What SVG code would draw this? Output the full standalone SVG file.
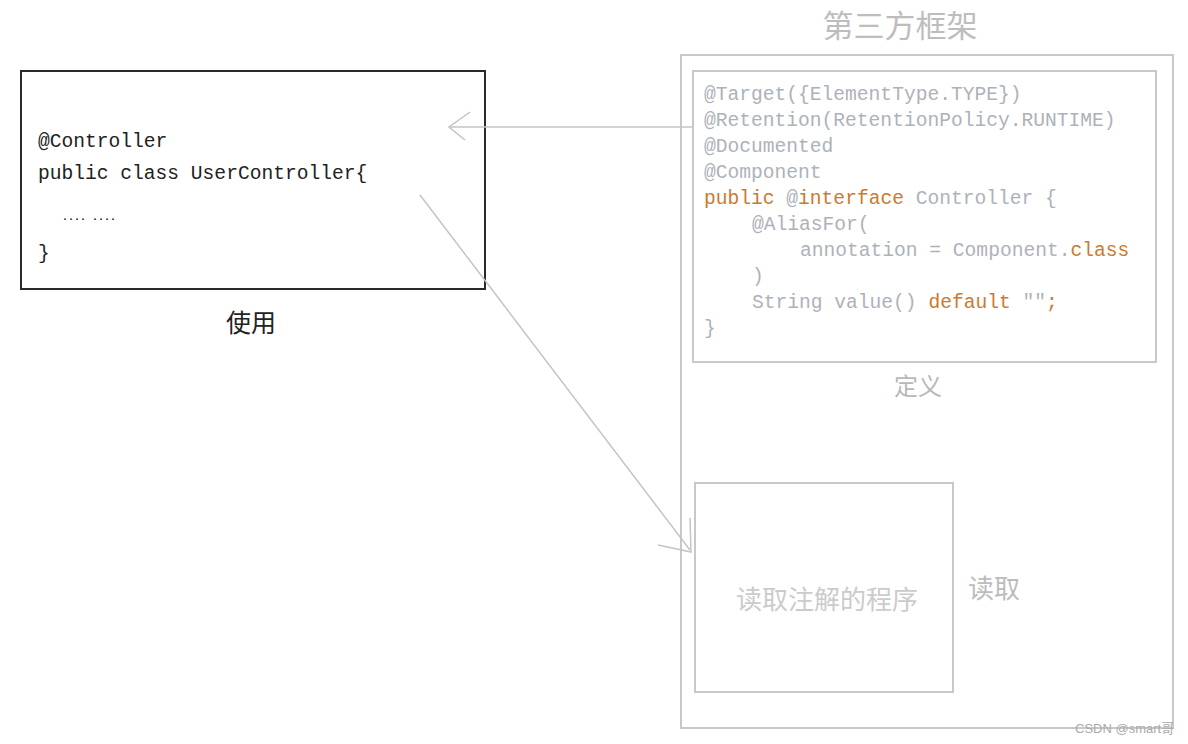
<svg xmlns="http://www.w3.org/2000/svg" width="1188" height="744" viewBox="0 0 1188 744">
<style>
.box{fill:none;stroke:#c8c8c8;stroke-width:2}
.code{font-family:"Liberation Mono","DejaVu Sans Mono",monospace;font-size:19.6px}
.g{fill:#adb2ba}
.o{fill:#cc7a2e}
.cjk{font-family:"Noto Sans CJK SC","Noto Sans",sans-serif}
.conn{fill:none;stroke:#c4c4c4;stroke-width:1.5}
</style>
<rect width="1188" height="744" fill="#ffffff"/>
<g id="framework">
<rect class="box" x="681" y="55" width="492" height="673"/>
<text class="cjk" x="900" y="37" font-size="31" fill="#bdbdbd" text-anchor="middle">第三方框架</text>
</g>
<g id="definition">
<rect class="box" x="693" y="71" width="463" height="291"/>
<text class="code g" x="704" y="100">@Target({ElementType.TYPE})</text>
<text class="code g" x="704" y="126">@Retention(RetentionPolicy.RUNTIME)</text>
<text class="code g" x="704" y="152">@Documented</text>
<text class="code g" x="704" y="178">@Component</text>
<text class="code" x="704" y="204" xml:space="preserve"><tspan class="o">public</tspan><tspan class="g"> @</tspan><tspan class="o">interface</tspan><tspan class="g"> Controller {</tspan></text>
<text class="code g" x="752" y="230">@AliasFor(</text>
<text class="code" x="800" y="256" xml:space="preserve"><tspan class="g">annotation = Component.</tspan><tspan class="o">class</tspan></text>
<text class="code g" x="752" y="282">)</text>
<text class="code" x="752" y="308" xml:space="preserve"><tspan class="g">String value() </tspan><tspan class="o">default</tspan><tspan class="g"> ""</tspan><tspan class="o">;</tspan></text>
<text class="code g" x="704" y="334">}</text>
<text class="cjk" x="918" y="395" font-size="24" fill="#b8b8b8" text-anchor="middle">定义</text>
</g>
<g id="usage">
<rect x="21" y="71" width="464" height="218" fill="none" stroke="#2a2a2a" stroke-width="2"/>
<text class="code" x="38" y="147" fill="#222">@Controller</text>
<text class="code" x="38" y="179" fill="#222">public class UserController{</text>
<text class="code" x="62" y="220" fill="#111" font-weight="bold" style="font-size:10px">.... ....</text>
<text class="code" x="38" y="259" fill="#222">}</text>
<text class="cjk" x="251" y="332" font-size="25" fill="#222" text-anchor="middle">使用</text>
</g>
<g id="reader">
<rect class="box" x="695" y="483" width="258" height="209"/>
<text class="cjk" x="827" y="609" font-size="26" fill="#cbcbcb" text-anchor="middle">读取注解的程序</text>
<text class="cjk" x="994" y="598" font-size="26" fill="#bcbcbc" text-anchor="middle">读取</text>
</g>
<g id="connectors">
<line class="conn" x1="693" y1="127" x2="449" y2="127"/>
<polyline class="conn" points="470,112 449,127 465,140"/>
<line class="conn" x1="420" y1="195" x2="690" y2="550"/>
<polyline class="conn" points="690,518 691,552 658,545"/>
</g>
<text x="1075" y="733" font-family="'Liberation Sans','Noto Sans CJK SC',sans-serif" font-size="13" fill="#aaaaaa">CSDN @smart哥</text>
</svg>
